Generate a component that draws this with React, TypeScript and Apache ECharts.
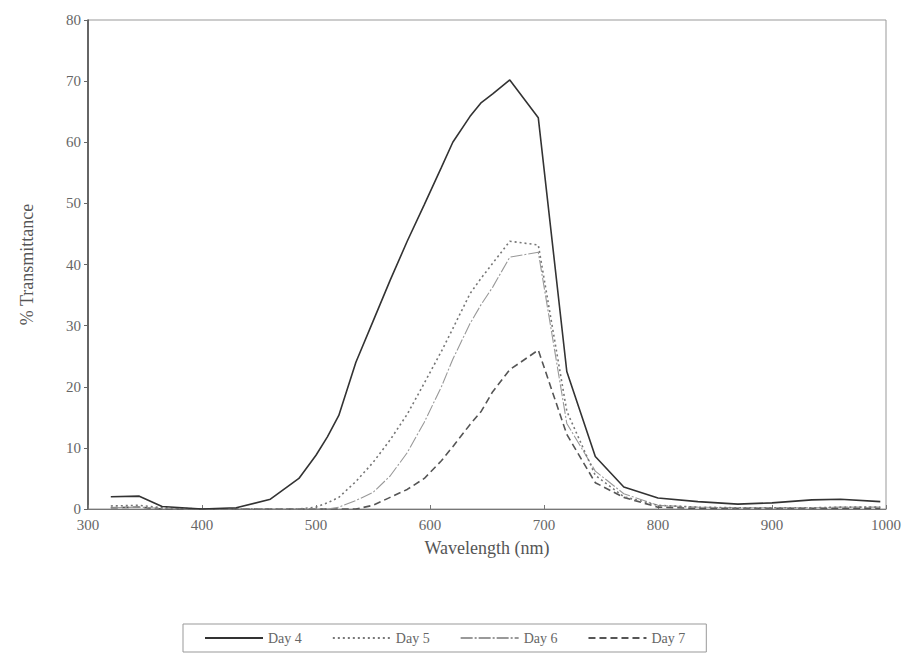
import React, { useEffect, useRef } from "react";
import * as echarts from "echarts";

const wavelengths = [320, 345, 365, 400, 430, 460, 485, 500, 510, 520, 535, 550, 565, 580, 595, 610, 620, 635, 645, 655, 670, 695, 720, 745, 770, 800, 835, 870, 900, 935, 960, 995];

const day4 = [2.0, 2.1, 0.4, 0.0, 0.2, 1.6, 5.0, 8.8, 11.8, 15.3, 24.0, 30.7, 37.4, 43.8, 49.8, 55.9, 60.0, 64.2, 66.5, 67.9, 70.2, 64.0, 22.5, 8.6, 3.6, 1.8, 1.2, 0.8, 1.0, 1.5, 1.6, 1.2];
const day5 = [0.5, 0.6, 0.2, 0.0, 0.0, 0.0, 0.0, 0.3, 1.0, 1.9, 4.5, 7.6, 11.3, 15.5, 20.6, 25.8, 29.5, 35.2, 37.8, 40.2, 43.8, 43.2, 16.0, 5.5, 2.0, 0.6, 0.3, 0.2, 0.2, 0.2, 0.3, 0.3];
const day6 = [0.2, 0.3, 0.1, 0.0, 0.0, 0.0, 0.0, 0.0, 0.0, 0.3, 1.4, 2.7, 5.4, 9.2, 14.2, 20.0, 24.5, 30.3, 33.5, 36.3, 41.2, 42.0, 14.0, 6.2, 2.5, 0.6, 0.3, 0.2, 0.2, 0.2, 0.3, 0.3];
const day7 = [0.2, 0.3, 0.0, 0.0, 0.0, 0.0, 0.0, 0.0, 0.0, 0.0, 0.0, 0.6, 1.9, 3.2, 5.0, 7.9, 10.2, 13.8, 16.0, 19.2, 22.8, 26.0, 12.2, 4.3, 1.9, 0.3, 0.1, 0.1, 0.1, 0.1, 0.1, 0.1];

const seriesNames = ["Day 4", "Day 5", "Day 6", "Day 7"];
const yTicks = [0, 10, 20, 30, 40, 50, 60, 70, 80];
const xTicks = [300, 400, 500, 600, 700, 800, 900, 1000];

const FONT = "'Liberation Serif', 'DejaVu Serif', serif";

export default function App() {
  const ref = useRef<HTMLDivElement>(null);

  useEffect(() => {
    document.body.style.margin = "0";
    if (!ref.current) return;
    const chart = echarts.init(ref.current, undefined, { renderer: "svg" });
    const pair = (vals: number[]) => wavelengths.map((w, i) => [w, vals[i]]);
    const styles = [
      { color: "#333", width: 1.6, type: "solid" as any },
      { color: "#777", width: 1.6, type: [2, 3] as any },
      { color: "#999", width: 1.1, type: [12, 2, 2, 2] as any },
      { color: "#555", width: 1.6, type: [7, 4] as any },
    ];
    const allVals = [day4, day5, day6, day7];
    chart.setOption({
      animation: false,
      backgroundColor: "#fff",
      grid: {
        left: 88,
        right: 25,
        top: 20,
        bottom: 147,
        show: true,
        borderColor: "#999",
        borderWidth: 1,
      },
      legend: {
        bottom: 4,
        left: 183,
        data: seriesNames,
        itemWidth: 58,
        itemHeight: 10,
        itemGap: 30,
        padding: [7, 21],
        borderColor: "#999",
        borderWidth: 1,
        itemStyle: { opacity: 0 },
        textStyle: { fontFamily: FONT, fontSize: 14, color: "#666" },
      },
      xAxis: {
        type: "value",
        min: xTicks[0],
        max: xTicks[xTicks.length - 1],
        interval: 100,
        name: "Wavelength (nm)",
        nameLocation: "middle",
        nameGap: 30,
        nameTextStyle: { fontFamily: FONT, fontSize: 18, color: "#555" },
        axisLine: { show: true, lineStyle: { color: "#777", width: 1 } },
        axisTick: { show: true, inside: true, length: 4, lineStyle: { color: "#777" } },
        axisLabel: { fontFamily: FONT, fontSize: 15, color: "#666", margin: 8, formatter: (v: number) => String(v) },
        splitLine: { show: false },
      },
      yAxis: {
        type: "value",
        min: yTicks[0],
        max: yTicks[yTicks.length - 1],
        interval: 10,
        name: "% Transmittance",
        nameLocation: "middle",
        nameGap: 52,
        nameTextStyle: { fontFamily: FONT, fontSize: 18, color: "#555" },
        axisLine: { show: true, lineStyle: { color: "#444", width: 1.5 } },
        axisTick: { show: true, inside: false, length: 4, lineStyle: { color: "#666" } },
        axisLabel: { fontFamily: FONT, fontSize: 15, color: "#666", margin: 7 },
        splitLine: { show: false },
      },
      series: seriesNames.map((name, i) => ({
        name,
        type: "line",
        data: pair(allVals[i]),
        symbol: "none",
        lineStyle: styles[i],
        itemStyle: { color: styles[i].color },
        z: 10 - i,
      })),
    });
    return () => chart.dispose();
  }, []);

  return <div ref={ref} style={{ width: 911, height: 656 }} />;
}
